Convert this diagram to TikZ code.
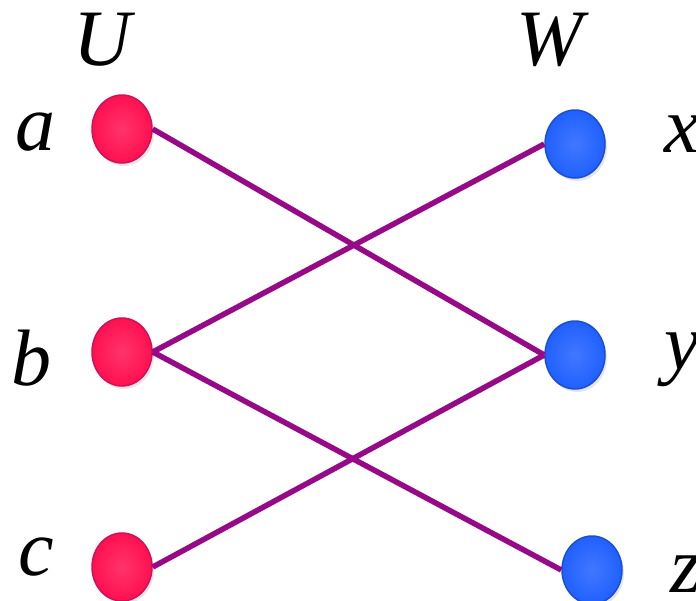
\documentclass[tikz,border=0pt]{standalone}
\usepackage{fontspec}
\setmainfont{Liberation Serif}
\newfontfamily\lblfont{LiberationSerif-Italic.ttf}
\usepackage{xcolor}
\usetikzlibrary{shapes.geometric, shadows}

\definecolor{redball}{HTML}{FF1050}
\definecolor{redrim}{HTML}{D0105A}
\definecolor{blueball}{HTML}{2060FF}
\definecolor{bluerim}{HTML}{1A50D0}
\definecolor{edgepurple}{HTML}{960A88}

\begin{document}
\begin{tikzpicture}[x=1pt, y=-1pt,
        uvert/.style={draw=redrim, line width=1.5pt, ellipse, minimum width=60pt, minimum height=68pt,
            inner color=redball!85!white, outer color=redball, drop shadow={opacity=0.2, shadow xshift=2pt, shadow yshift=-3pt}},
        wvert/.style={draw=bluerim, line width=1.5pt, ellipse, minimum width=60pt, minimum height=68pt,
            inner color=blueball!85!white, outer color=blueball, drop shadow={opacity=0.2, shadow xshift=2pt, shadow yshift=-3pt}},
        lbl/.style={anchor=base, font=\fontsize{80}{80}\selectfont\lblfont, inner sep=0pt},
        match/.style={edgepurple, line width=5.5pt}]
    \useasboundingbox (0,0) rectangle (696,600);
    % the two sides
    \node[lbl] (Ulbl) at (102,65) {U};
    \node[lbl] (Wlbl) at (550,65) {W};
    % left vertices
    \node[uvert] (a) at (122,129) {};
    \node[uvert] (b) at (122,352) {};
    \node[uvert] (c) at (122,567) {};
    % right vertices
    \node[wvert] (x) at (575,144) {};
    \node[wvert] (y) at (575,355) {};
    \node[wvert] (z) at (592,570) {};
    % names
    \node[lbl] (alab) at (35,150) {a};
    \node[lbl] (blab) at (32,385) {b};
    \node[lbl] (clab) at (36,575) {c};
    \node[lbl] (xlab) at (682,152) {x};
    \node[lbl] (ylab) at (682,369) {y};
    \node[lbl] (zlab) at (686,592) {z};
    % edges
    \draw[match] (a.east) -- (y.west);
    \draw[match] (b.east) -- (x.west);
    \draw[match] (b.east) -- (z.west);
    \draw[match] (c.east) -- (y.west);
\end{tikzpicture}
\end{document}
